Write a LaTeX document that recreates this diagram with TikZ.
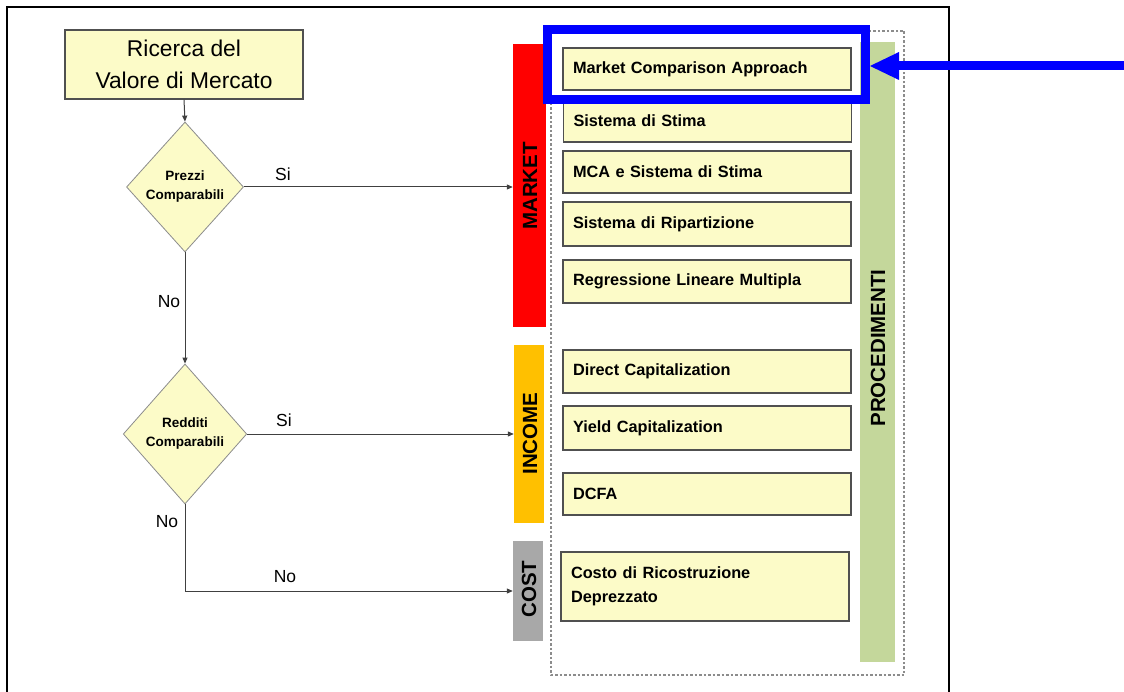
\documentclass[tikz,border=0pt]{standalone}
\usepackage{fontspec}
\setmainfont{Liberation Sans}
\usetikzlibrary{arrows.meta,shapes.geometric}
\definecolor{boxyellow}{HTML}{FCFBC8}
\definecolor{boxline}{HTML}{505050}
\definecolor{flowline}{HTML}{404040}
\definecolor{mktred}{HTML}{FF0000}
\definecolor{incorange}{HTML}{FFC000}
\definecolor{costgray}{HTML}{A8A8A8}
\definecolor{procgreen}{HTML}{C4D79B}
\definecolor{hlblue}{HTML}{0000FF}
\begin{document}
\begin{tikzpicture}[x=1pt,y=-1pt,
  titlebox/.style={draw=boxline,fill=boxyellow,line width=1.2pt,minimum width=238pt,minimum height=69pt,align=center,inner sep=0pt,font=\fontsize{22.8}{32}\selectfont},
  decision/.style={diamond,draw=black!45,fill=boxyellow,line width=0.8pt,inner sep=0pt,align=center,font=\fontsize{13.5}{19}\selectfont\bfseries},
  method/.style={draw=boxline,fill=boxyellow,line width=1.3pt,minimum width=288pt,text width=268pt,inner xsep=10pt,inner ysep=0pt,align=left,font=\fontsize{16.3}{24}\selectfont\bfseries},
  bar/.style={inner sep=0pt,draw=none},
  barlabel/.style={rotate=90,inner sep=0pt,font=\fontsize{20.5}{24}\selectfont\bfseries},
  flow/.style={draw=flowline,line width=1pt,-{Triangle[length=6pt,width=5pt]}},
  flowlabel/.style={inner sep=0pt,font=\fontsize{17.5}{20}\selectfont}
]
\useasboundingbox (0,0) rectangle (1124,692);
\fill[white] (0,0) rectangle (1124,692);
% outer frame
\draw[line width=2pt] (7,692) -- (7,7) -- (949,7) -- (949,692);

% dashed container
\draw[black!45,line width=1.5pt,dash pattern=on 2.5pt off 2pt] (551,31) rectangle (904,675);

% bars
\node[bar,fill=mktred,minimum width=33pt,minimum height=283pt] (market) at (529.5,185.5) {};
\node[bar,fill=incorange,minimum width=30pt,minimum height=178pt] (income) at (529,434) {};
\node[bar,fill=costgray,minimum width=30pt,minimum height=100pt] (cost) at (528,591) {};
\node[bar,fill=procgreen,minimum width=35pt,minimum height=620pt] (proc) at (877.5,352) {};
\node[barlabel] (marketlbl) at (530,186) {MARKET};
\node[barlabel] (incomelbl) at (530,433.5) {INCOME};
\node[barlabel] (costlbl) at (529,589) {COST};
\node[barlabel] (proclbl) at (878,348) {PROCEDIMENTI};

% method boxes
\node[method,minimum height=42pt] (m1) at (707,69) {Market Comparison Approach};
\node[method,minimum height=42pt] (m2) at (707.5,121) {Sistema di Stima};
\node[method,minimum height=42pt] (m3) at (707,172) {MCA e Sistema di Stima};
\node[method,minimum height=44pt] (m4) at (707,224) {Sistema di Ripartizione};
\node[method,minimum height=43pt] (m5) at (707,281.5) {Regressione Lineare Multipla};
\node[method,minimum height=43pt] (m6) at (707,371.5) {Direct Capitalization};
\node[method,minimum height=44pt] (m7) at (707,428) {Yield Capitalization};
\node[method,minimum height=42pt] (m8) at (707,494) {DCFA};
\node[method,minimum height=69pt] (m9) at (705,586.5) {Costo di Ricostruzione\\Deprezzato};

% flow chart
\node[titlebox] (title) at (184,64.5) {Ricerca del\\Valore di Mercato};
\node[decision,minimum width=117pt,minimum height=130pt] (d1) at (185,187) {Prezzi\\Comparabili};
\node[decision,minimum width=123.5pt,minimum height=140pt] (d2) at (185,434) {Redditi\\Comparabili};
\coordinate (corner) at (185,591);

\draw[flow] (title.south) -- (d1.north);
\draw[flow] (d1.east) -- (d1.east -| market.west);
\draw[flow] (d1.south) -- (d2.north);
\draw[flow] (d2.east) -- (d2.east -| income.west);
\draw[flow] (d2.south) -- (corner) -- (corner -| cost.west);

\node[flowlabel] (si1) at (283,174) {Si};
\node[flowlabel] (no1) at (169,302) {No};
\node[flowlabel] (si2) at (284,420) {Si};
\node[flowlabel] (no2) at (167,522) {No};
\node[flowlabel] (no3) at (285,577) {No};

% highlight
\node[draw=hlblue,line width=9pt,minimum width=318pt,minimum height=70pt,inner sep=0pt] (hl) at (706.5,64.5) {};
\coordinate (blueStart) at (1124,66);
\draw[hlblue,line width=9pt,-{Triangle[length=29pt,width=28pt,line width=0pt]}] (blueStart) -- (blueStart -| hl.east);
\end{tikzpicture}
\end{document}
